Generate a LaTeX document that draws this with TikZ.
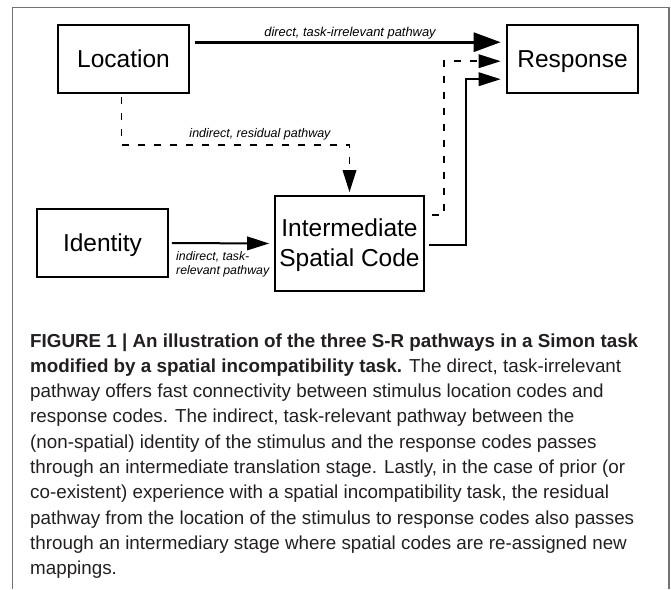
\documentclass[tikz,border=0pt]{standalone}
\usepackage{fontspec}
\setmainfont{Liberation Sans}
\usetikzlibrary{arrows.meta}
\definecolor{framegray}{gray}{0.45}
\definecolor{captext}{HTML}{231F20}
\begin{document}
\begin{tikzpicture}[x=1pt,y=-1pt,
  blockbox/.style={draw=black, line width=1.6pt, inner sep=0pt, align=center,
    font=\fontsize{24.5}{30}\selectfont, text height=17.5pt, text depth=0pt},
  pathlabel/.style={inner sep=0pt, font=\itshape\fontsize{12.9}{14.5}\selectfont},
  bigtip/.style={-{Triangle[length=27pt,width=19pt]}},
  smalltip/.style={-{Triangle[length=22pt,width=13.5pt]}},
  dashpath/.style={dash pattern=on 7pt off 9pt},
  frameline/.style={draw=framegray, line width=1.3pt}]
\useasboundingbox (0,0) rectangle (671,589);
\draw[frameline] (12.5,589) -- (12.5,7.5) -- (669,7.5) -- (669,589);

\node[blockbox, minimum width=131pt, minimum height=68pt] (loc) at (123.5,59) {Location};
\node[blockbox, minimum width=131pt, minimum height=68pt] (resp) at (572.5,59) {Response};
\node[blockbox, minimum width=131pt, minimum height=68pt] (ident) at (102.5,243) {Identity};
\node[blockbox, minimum width=149pt, minimum height=95pt, text height=47.5pt, text depth=2.5pt] (inter) at (349.5,243.5) {Intermediate\\Spatial Code};

\draw[line width=3pt, bigtip] ([xshift=5pt,yshift=-18pt]loc.north east) -- ([xshift=-5.5pt,yshift=-18pt]resp.north west);
\draw[line width=1.8pt, dashpath, smalltip] ([xshift=7pt,yshift=-20pt]inter.north east) -- ++(12,0) |- ([xshift=-5.5pt,yshift=-37pt]resp.north west);
\draw[line width=2pt, smalltip] ([xshift=4pt,yshift=-1.5pt]inter.east) -- ++(37,0) |- ([xshift=-5.5pt,yshift=-55pt]resp.north west);
\draw[line width=1.8pt, dashpath, smalltip] ([xshift=-2pt,yshift=-3pt]loc.south) -- ++(0,48) -| ([yshift=3pt]inter.north);
\draw[line width=2pt, smalltip] ([xshift=3pt]ident.east) -- ([xshift=-5pt]inter.west);

\node[pathlabel, anchor=base] (l1) at (350,36) {direct, task-irrelevant pathway};
\node[pathlabel, anchor=base, font=\itshape\fontsize{12.5}{14.5}\selectfont] (l2) at (260,137) {indirect, residual pathway};
\node[pathlabel, anchor=base west, font=\itshape\fontsize{12.3}{14.5}\selectfont] (l3) at (176,260) {\parbox[t]{120pt}{indirect, task-\\relevant pathway}};

\node[anchor=base west, inner sep=0pt, text=captext] (cap) at (30,347) {\parbox[t]{640pt}{\fontsize{18.8}{25.3}\selectfont\raggedright
\textbf{FIGURE 1 | An illustration of the three S-R pathways in a Simon task}\\
\textbf{modified by a spatial incompatibility task.} The direct, task-irrelevant\\
pathway offers fast connectivity between stimulus location codes and\\
response codes. The indirect, task-relevant pathway between the\\
(non-spatial) identity of the stimulus and the response codes passes\\
through an intermediate translation stage. Lastly, in the case of prior (or\\
co-existent) experience with a spatial incompatibility task, the residual\\
pathway from the location of the stimulus to response codes also passes\\
through an intermediary stage where spatial codes are re-assigned new\\
mappings.}};
\end{tikzpicture}
\end{document}
